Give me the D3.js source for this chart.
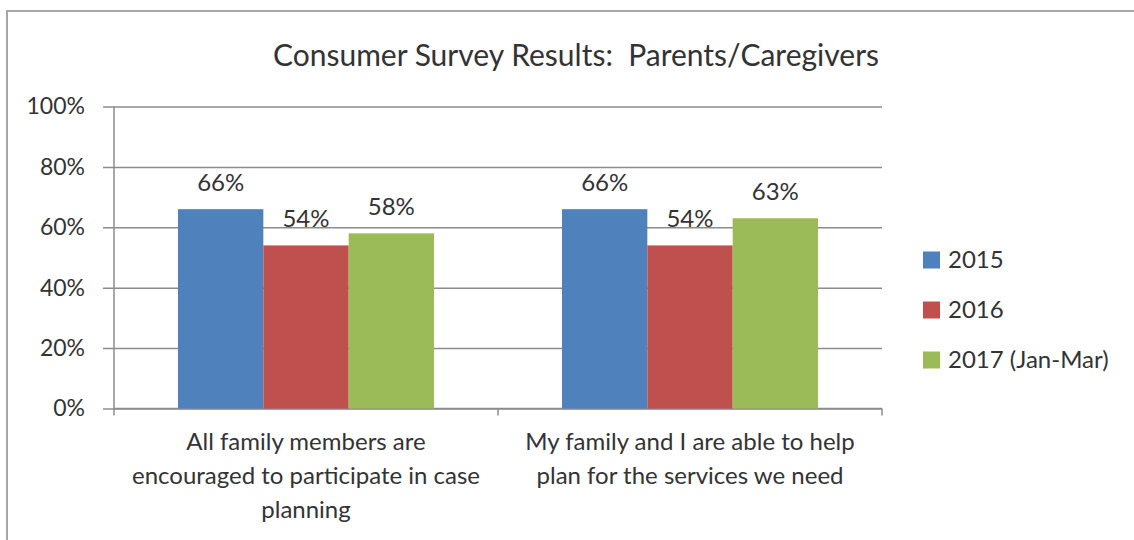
<!DOCTYPE html>
<html>
<head>
<meta charset="utf-8">
<script src="https://d3js.org/d3.v7.min.js"></script>
<style>
    body { margin: 0; background: #fff; }
    text { font-family: Lato, "Open Sans", sans-serif; fill: #333; }
</style>
</head>
<body>
<div id="chart"></div>
<script>
// Data
var categories = [
    ["All family members are", "encouraged to participate in case", "planning"],
    ["My family and I are able to help", "plan for the services we need"]
];
var seriesNames = ["2015", "2016", "2017 (Jan-Mar)"];
var seriesValues = [
    [66, 66],
    [54, 54],
    [58, 63]
];
var yTicks = [0, 20, 40, 60, 80, 100];
var colors = ["#4F81BD", "#C0504D", "#9BBB59"];

var svgWidth = 1134;
var svgHeight = 540;

var margin = { top: 106.5, left: 114, right: 252, bottom: 131.5 };
var width = svgWidth - margin.left - margin.right;
var height = svgHeight - margin.top - margin.bottom;

var svg = d3.select("#chart")
    .append("svg")
    .attr("width", svgWidth)
    .attr("height", svgHeight);

// Outer frame
svg.append("rect")
    .attr("x", 7)
    .attr("y", 11)
    .attr("width", svgWidth + 20)
    .attr("height", svgHeight + 20)
    .attr("fill", "none")
    .attr("stroke", "#a6a6a6")
    .attr("stroke-width", 2);

// Title
svg.append("text")
    .attr("x", 576)
    .attr("y", 66)
    .attr("text-anchor", "middle")
    .style("font-size", "30px")
    .style("white-space", "pre")
    .text("Consumer Survey Results:  Parents/Caregivers");

var chartGroup = svg.append("g")
    .attr("transform", `translate(${margin.left}, ${margin.top})`);

// Scales
var x0 = d3.scaleBand()
    .domain(d3.range(categories.length))
    .range([0, width]);

var x1 = d3.scaleBand()
    .domain(d3.range(seriesNames.length))
    .range([0, x0.bandwidth()])
    .paddingOuter(0.75);

var yLinearScale = d3.scaleLinear()
    .domain([0, 100])
    .range([height, 0]);

// Gridlines + left axis
var leftAxis = d3.axisLeft(yLinearScale)
    .tickValues(yTicks)
    .tickSize(-width)
    .tickPadding(29)
    .tickFormat(d => d + "%");

var yAxis = chartGroup.append("g")
    .call(leftAxis);

yAxis.select(".domain").remove();
yAxis.selectAll(".tick line")
    .attr("x1", -11)
    .attr("stroke", "#8c8c8c")
    .attr("stroke-width", 1.5);
yAxis.selectAll(".tick text")
    .style("font-size", "23px")
    .attr("fill", "#333");

// Vertical axis line
chartGroup.append("line")
    .attr("x1", 0)
    .attr("x2", 0)
    .attr("y1", 0)
    .attr("y2", height + 7)
    .attr("stroke", "#8c8c8c")
    .attr("stroke-width", 1.5);

// Bottom axis
chartGroup.append("line")
    .attr("x1", 0)
    .attr("x2", width)
    .attr("y1", height)
    .attr("y2", height)
    .attr("stroke", "#8c8c8c")
    .attr("stroke-width", 1.5);

chartGroup.selectAll("line.catTick")
    .data(d3.range(1, categories.length + 1))
    .enter()
    .append("line")
    .classed("catTick", true)
    .attr("x1", d => x0.step() * d)
    .attr("x2", d => x0.step() * d)
    .attr("y1", height)
    .attr("y2", height + 7)
    .attr("stroke", "#8c8c8c")
    .attr("stroke-width", 1.5);

// Bars
var barData = [];
seriesValues.forEach(function (vals, s) {
    vals.forEach(function (v, c) {
        barData.push({ s: s, c: c, value: v });
    });
});

chartGroup.selectAll("rect.bar")
    .data(barData)
    .enter()
    .append("rect")
    .classed("bar", true)
    .attr("x", d => x0(d.c) + x1(d.s))
    .attr("y", d => yLinearScale(d.value))
    .attr("width", x1.bandwidth())
    .attr("height", d => height - yLinearScale(d.value))
    .attr("fill", d => colors[d.s]);

// Value labels
chartGroup.selectAll("text.valueText")
    .data(barData)
    .enter()
    .append("text")
    .classed("valueText", true)
    .attr("x", d => x0(d.c) + x1(d.s) + x1.bandwidth() / 2)
    .attr("y", d => yLinearScale(d.value) - 18)
    .attr("text-anchor", "middle")
    .style("font-size", "24px")
    .text(d => d.value + "%");

// Category labels
var catGroups = chartGroup.selectAll("g.catLabel")
    .data(categories)
    .enter()
    .append("g")
    .classed("catLabel", true)
    .attr("transform", (d, i) => `translate(${x0(i) + x0.bandwidth() / 2}, ${height + 41})`);

catGroups.selectAll("text")
    .data(d => d)
    .enter()
    .append("text")
    .attr("x", 0)
    .attr("y", (d, i) => i * 34)
    .attr("text-anchor", "middle")
    .style("font-size", "24px")
    .text(d => d);

// Legend
var legend = svg.append("g")
    .attr("transform", "translate(923, 260)");

var legendItems = legend.selectAll("g")
    .data(seriesNames)
    .enter()
    .append("g")
    .attr("transform", (d, i) => `translate(0, ${i * 50})`);

legendItems.append("rect")
    .attr("x", 0)
    .attr("y", -8.5)
    .attr("width", 17)
    .attr("height", 17)
    .attr("fill", (d, i) => colors[i]);

legendItems.append("text")
    .attr("x", 25)
    .attr("y", 0)
    .attr("dy", "0.35em")
    .style("font-size", "24px")
    .text(d => d);
</script>
</body>
</html>
